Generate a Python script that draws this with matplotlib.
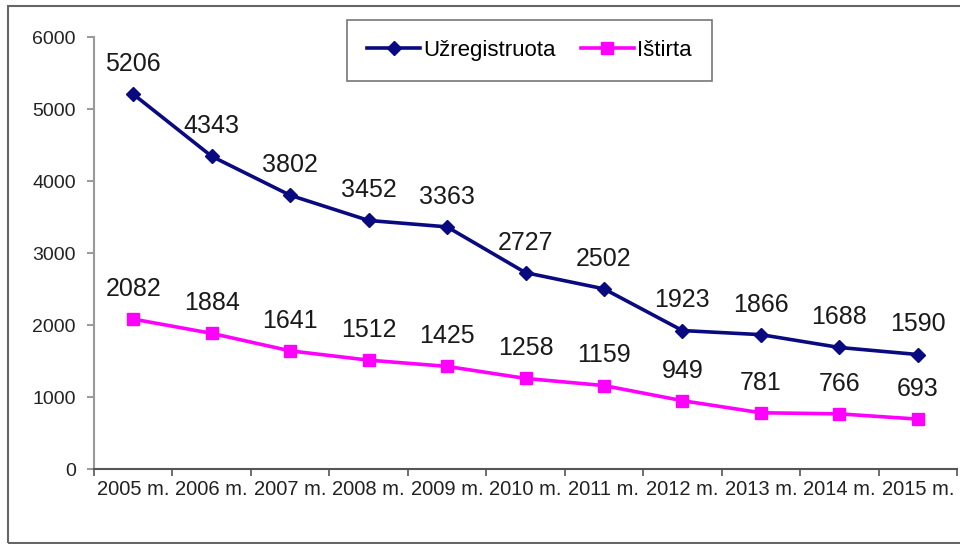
import matplotlib.pyplot as plt
from matplotlib.patches import Rectangle

plt.rcParams['font.family'] = ['Liberation Sans', 'DejaVu Sans']

years = ["2005 m.", "2006 m.", "2007 m.", "2008 m.", "2009 m.", "2010 m.",
         "2011 m.", "2012 m.", "2013 m.", "2014 m.", "2015 m."]
registered = [5206, 4343, 3802, 3452, 3363, 2727, 2502, 1923, 1866, 1688, 1590]
solved = [2082, 1884, 1641, 1512, 1425, 1258, 1159, 949, 781, 766, 693]
yticks = [0, 1000, 2000, 3000, 4000, 5000, 6000]

navy = "#0a0a80"
magenta = "#ff00ff"

fig = plt.figure(figsize=(9.6, 5.44), dpi=100)
ax = fig.add_axes([94 / 960, 1 - 469 / 544, 863 / 960, 432 / 544])

# outer chart frame
fig.patches.append(Rectangle((8 / 960, 1 / 544), 960, 537 / 544, transform=fig.transFigure,
                             fill=False, edgecolor="#666666", linewidth=1.5))

x = list(range(len(years)))
ax.plot(x, registered, color=navy, lw=2.6, marker="D", ms=7, label="Užregistruota")
ax.plot(x, solved, color=magenta, lw=2.6, marker="s", ms=9, label="Ištirta")

for xi, v in zip(x, registered):
    ax.annotate(str(v), (xi, v), xytext=(0, 13), textcoords="offset points",
                ha="center", va="bottom", fontsize=18, color="#1a1a1a")
for xi, v in zip(x, solved):
    ax.annotate(str(v), (xi, v), xytext=(0, 13), textcoords="offset points",
                ha="center", va="bottom", fontsize=18, color="#1a1a1a")

ax.set_xlim(-0.5, len(years) - 0.5)
ax.set_ylim(0, 6000)
ax.set_yticks(yticks)
ax.set_yticklabels([str(t) for t in yticks], fontsize=14, color="#222222")

# category labels in the middle, tick marks on the boundaries
ax.set_xticks(x)
ax.set_xticklabels(years, fontsize=14.5, color="#222222")
ax.tick_params(axis="x", which="major", length=0, pad=8)
ax.set_xticks([i - 0.5 for i in range(len(years) + 1)], minor=True)
ax.tick_params(axis="x", which="minor", length=5, color="#555555", width=1.2)
ax.tick_params(axis="y", length=5, color="#888888", width=1.2, pad=8)

for s in ["top", "right"]:
    ax.spines[s].set_visible(False)
ax.spines["left"].set_color("#999999")
ax.spines["left"].set_linewidth(1.5)
ax.spines["bottom"].set_color("#555555")
ax.spines["bottom"].set_linewidth(1.5)

leg = fig.legend(loc="upper left", bbox_to_anchor=(347 / 960, 1 - 20 / 544), ncol=2,
                 fontsize=16, frameon=True, fancybox=False, edgecolor="#555555",
                 handlelength=2.4, columnspacing=1.1, borderpad=0.9, handletextpad=0.15,
                 borderaxespad=0)
leg.get_frame().set_linewidth(1.2)

plt.savefig("out.png", dpi=100)
plt.close()
